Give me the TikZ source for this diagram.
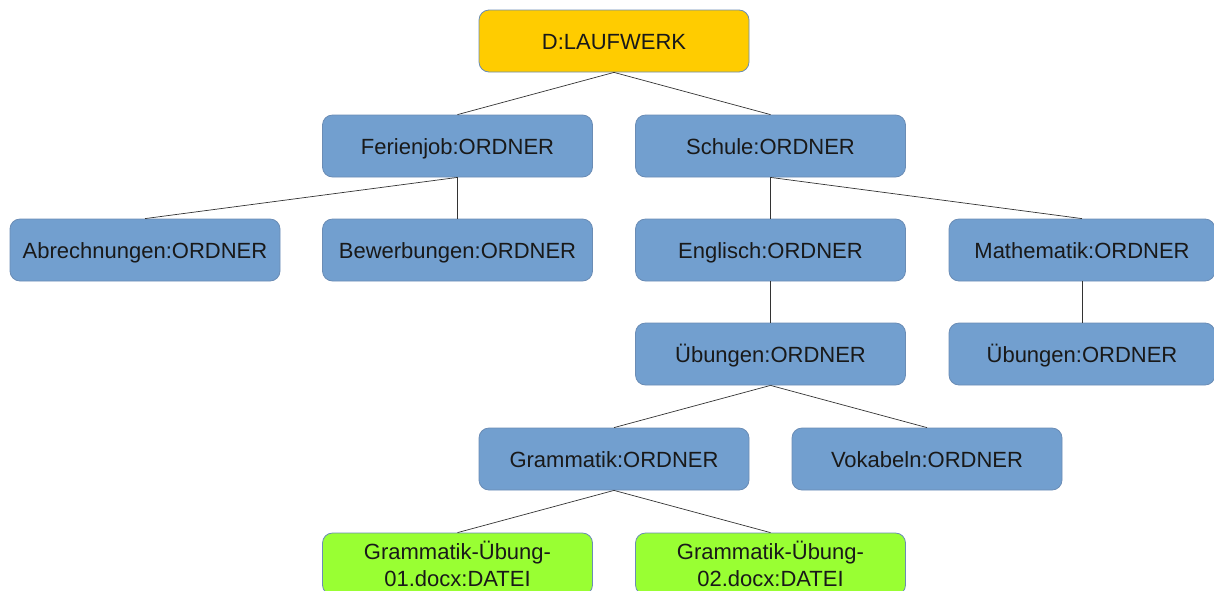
\documentclass[tikz,border=0pt]{standalone}
\usepackage{fontspec}
\setmainfont{Liberation Sans}
\definecolor{rootfill}{HTML}{FFCC00}
\definecolor{dirfill}{HTML}{729FCF}
\definecolor{filefill}{HTML}{99FF33}
\definecolor{boxline}{HTML}{6A8CB5}
\definecolor{edgecol}{HTML}{333333}
\begin{document}
\begin{tikzpicture}[x=1pt,y=-1pt,
  box/.style={draw=boxline, line width=0.8pt, rounded corners=10pt, minimum width=270pt, minimum height=62pt, inner sep=0pt, align=center, font=\fontsize{22}{27}\selectfont, text=black!90},
  oneline/.style={text height=18pt, text depth=2pt},
  dirbox/.style={box, oneline, fill=dirfill},
  rootbox/.style={box, oneline, fill=rootfill},
  filebox/.style={box, fill=filefill},
  edge/.style={draw=edgecol, line width=0.7pt}]
\useasboundingbox (0,0) rectangle (1214,590);
\clip (0,0) rectangle (1214,590);
\node[rootbox] (root) at (614,41) {D:LAUFWERK};
\node[dirbox] (ferien) at (457.5,146) {Ferienjob:ORDNER};
\node[dirbox] (schule) at (770.5,146) {Schule:ORDNER};
\node[dirbox] (abr) at (145,250) {Abrechnungen:ORDNER};
\node[dirbox] (bew) at (457.5,250) {Bewerbungen:ORDNER};
\node[dirbox] (engl) at (770.5,250) {Englisch:ORDNER};
\node[dirbox, minimum width=266pt] (mathe) at (1082,250) {Mathematik:ORDNER};
\node[dirbox] (uebE) at (770.5,354) {Übungen:ORDNER};
\node[dirbox, minimum width=266pt] (uebM) at (1082,354) {Übungen:ORDNER};
\node[dirbox] (gram) at (614,459) {Grammatik:ORDNER};
\node[dirbox] (vok) at (927,459) {Vokabeln:ORDNER};
\node[filebox] (g1) at (457.5,564) {Grammatik-Übung-\\01.docx:DATEI};
\node[filebox] (g2) at (770.5,564) {Grammatik-Übung-\\02.docx:DATEI};
\draw[edge] (root.south) -- (ferien.north);
\draw[edge] (root.south) -- (schule.north);
\draw[edge] (ferien.south) -- (abr.north);
\draw[edge] (ferien.south) -- (bew.north);
\draw[edge] (schule.south) -- (engl.north);
\draw[edge] (schule.south) -- (mathe.north);
\draw[edge] (engl.south) -- (uebE.north);
\draw[edge] (mathe.south) -- (uebM.north);
\draw[edge] (uebE.south) -- (gram.north);
\draw[edge] (uebE.south) -- (vok.north);
\draw[edge] (gram.south) -- (g1.north);
\draw[edge] (gram.south) -- (g2.north);
\end{tikzpicture}
\end{document}
